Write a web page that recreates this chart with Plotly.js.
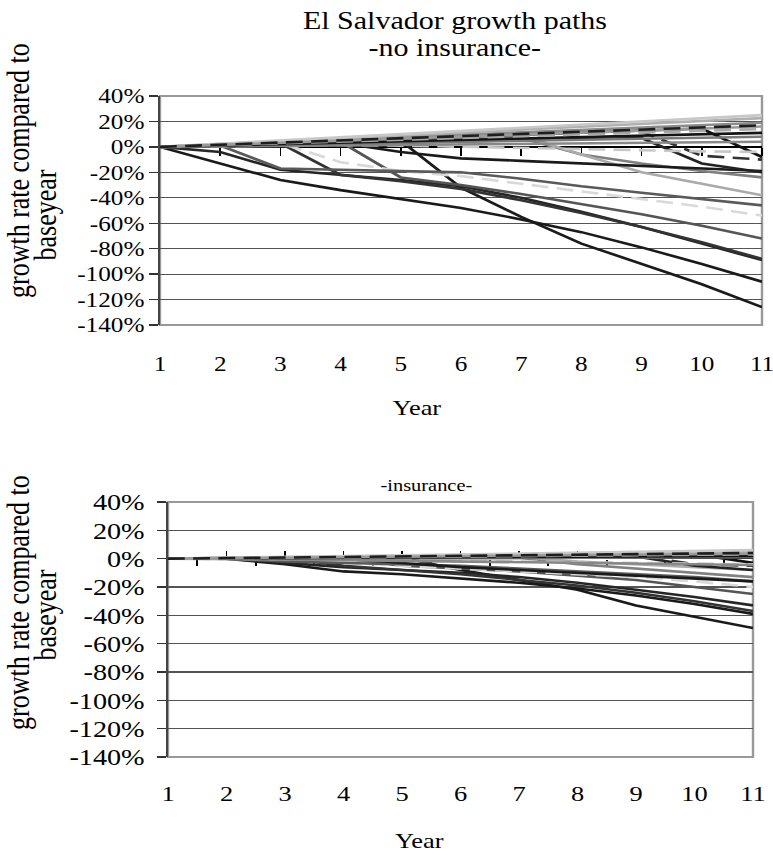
<!DOCTYPE html>
<html><head><meta charset="utf-8">
<script src="https://cdn.plot.ly/plotly-3.0.1.min.js"></script>
<style>
html,body{margin:0;padding:0;overflow:hidden;background:#fff;}
#wrap{width:773px;height:855px;overflow:hidden;position:relative;}
#chart{width:650px;height:855px;transform:scaleX(1.2003);transform-origin:0 0;}
</style></head><body><div id="wrap"><div id="chart"></div></div>
<script>
// ---------- data ----------
const years = [1,2,3,4,5,6,7,8,9,10,11];
const xTickText = ['1','2','3','4','5','6','7','8','9','10','11'];
const yTickVals = [40,20,0,-20,-40,-60,-80,-100,-120,-140];
const yTickText = ['40%','20%','0%','-20%','-40%','-60%','-80%','-100%','-120%','-140%'];

// no insurance (values in %)
const n01 = [0,2.5,5,7.5,10,12.5,15,17.5,20,22.5,25];
const n02 = [0,2.3,4.5,6.8,9,11.3,13.6,15.9,18.1,20.4,22.6];
const n03 = [0,1.9,3.8,5.7,7.6,9.5,11.4,13.3,15.2,17.1,19];
const n04 = [0,1.7,3.4,5.1,6.8,8.5,10.2,11.9,13.6,15.3,17];
const n05 = [0,1.4,2.8,4.2,5.6,7,8.4,9.8,11.2,12.6,14];
const n06 = [0,1.1,2.2,3.3,4.4,5.5,6.6,7.7,8.8,9.9,11];
const n07 = [0,0.8,1.6,2.4,3.2,4,4.8,5.6,6.4,7.2,8];
const n08 = [0,0.5,1,1.5,1,0,-1,-2,-3,-3.5,-4];
const n09 = [0,1.6,3.2,4.8,6.4,8,9.6,11.2,12.8,14.4,-8];
const n10 = [0,1.5,3,4.5,6,7.5,9,10.5,12,-7,-10];
const n11 = [0,0.9,1.8,2.7,3.6,4.5,5.4,6.3,7,-13,-20];
const n12 = [0,1,2,3,-4,-9,-11,-13,-15,-17,-19];
const n13 = [0,-13,-26,-34,-41,-48,-57,-67,-79,-92,-106];
const n14 = [0,1.2,2.4,3.6,4.8,-32,-55,-76,-92,-108,-126];
const n15 = [0,-4,-18,-22,-26,-31,-40,-51,-63,-76,-89];
const n16 = [0,1.4,2.8,-22,-27,-33,-42,-52,-63,-75,-88];
const n17 = [0,1.3,2.6,3.9,-24,-30,-37,-45,-53,-62,-72];
const n18 = [0,1.5,3,-12,-19,-23,-29,-35,-41,-47,-54];
const n19 = [0,1,-17,-18,-19,-20,-25,-31,-36,-41,-46];
const n20 = [0,1.2,2.4,3.6,4.8,6,7,-6,-13,-19,-24];
const n21 = [0,1.5,3,4.5,6,7.5,9,-6,-20,-29,-38];
const n22 = [0,1.6,3.2,4.8,6.4,8,9.6,11.2,12.8,14.4,16];
const n23 = [0,0.4,0.8,1.2,1.6,2,2.4,2.8,3.2,3.6,4];

// insurance (values in %)
const i01 = [0,0.6,1.2,1.8,2.4,3,3.6,4.2,4.8,5.4,6];
const i02 = [0,0.5,1,1.5,2,2.5,3,3.5,4,4.5,5];
const i03 = [0,0.45,0.9,1.35,1.8,2.25,2.7,3.15,3.6,4.05,4.5];
const i04 = [0,0.4,0.8,1.2,1.6,2,2.4,2.8,3.2,3.6,4];
const i05 = [0,0.3,0.6,0.9,1.2,1.5,1.8,2.1,2.4,2.7,3];
const i06 = [0,0.2,0.4,0.6,0.8,1,1.2,1.4,1.6,1.8,2];
const i07 = [0,0.1,0.2,0.3,0.4,0.5,0.6,0.7,0.8,0.9,1];
const i08 = [0,0,0,-0.5,-1,-1.5,-2,-2.5,-3,-3.5,-4];
const i09 = [0,0.35,0.7,1.05,1.4,1.75,2.1,2.45,2.8,3.2,-3];
const i10 = [0,0.3,0.6,0.9,1.2,1.5,1.8,2.1,2.4,-4,-5];
const i11 = [0,0.2,0.4,0.6,0.8,1,1.2,1.4,1.6,-5,-8];
const i12 = [0,0.1,0.2,0.3,-3,-6,-8,-10,-12,-14,-16];
const i13 = [0,0,-4,-9,-11,-14,-17,-21,-26,-32,-39];
const i14 = [0,0.2,0.4,0.6,0.8,-8,-15,-22,-33,-41,-49];
const i15 = [0,0,-3,-6,-8,-10,-13,-17,-22,-27,-33];
const i16 = [0,0.1,0.3,-5,-8,-11,-15,-19,-24,-30,-37];
const i17 = [0,0.1,0.2,0.4,-5,-7,-9,-12,-15,-20,-25];
const i18 = [0,0.1,0.3,-3,-5,-7,-9,-11,-13,-16,-20];
const i19 = [0,0,-2,-3,-4,-5,-7,-9,-11,-13,-16];
const i20 = [0,0.1,0.2,0.3,0.4,0.5,0.6,-4,-7,-10,-13];
const i21 = [0,0.2,0.4,0.6,0.8,1,1.2,-2,-4,-6,-8];
const i22 = [0,0.35,0.7,1.05,1.4,1.75,2.1,2.45,2.8,3.15,3.5];
const i23 = [0,0,-0.5,-1,-1.5,-2,-2.5,-3,-3.5,-4,-4.5];

const noIns = [n13,n14,n15,n16,n17,n18,n19,n20,n21,n12,n11,n10,n09,n08,n23,n07,n06,n05,n03,n02,n01,n22,n04];
const ins   = [i13,i14,i15,i16,i17,i18,i19,i20,i21,i12,i11,i10,i09,i08,i23,i07,i06,i05,i03,i02,i01,i22,i04];

// ---------- styles (same order as series lists) ----------
const DASH = '14px,7px';
const styles = [
  {c:'#1a1a1a', d:'solid'}, {c:'#1a1a1a', d:'solid'}, {c:'#262626', d:'solid'}, {c:'#333333', d:'solid'},
  {c:'#555555', d:'solid'}, {c:'#d9d9d9', d:DASH},   {c:'#5a5a5a', d:'solid'}, {c:'#808080', d:'solid'},
  {c:'#aaaaaa', d:'solid'}, {c:'#1a1a1a', d:'solid'}, {c:'#222222', d:'solid'}, {c:'#333333', d:DASH},
  {c:'#111111', d:'solid'}, {c:'#c8c8c8', d:DASH},   {c:'#888888', d:'solid'}, {c:'#7a7a7a', d:'solid'},
  {c:'#141414', d:'solid'}, {c:'#a8a8a8', d:DASH},   {c:'#8c8c8c', d:'solid'}, {c:'#b0b0b0', d:'solid'},
  {c:'#c8c8c8', d:'solid'}, {c:'#9a9a9a', d:'solid'}, {c:'#1e1e1e', d:DASH}
];

const FONT = 'Liberation Serif, Times New Roman, serif';
const SX = 1.2003, W = 650, H = 855;
const fx = x => x / SX / W;      // reference pixel x -> paper fraction
const fy = y => 1 - y / H;       // reference pixel y -> paper fraction

const traces = [];
noIns.forEach((s,k)=>traces.push({x:years,y:s,xaxis:'x',yaxis:'y',mode:'lines',
  line:{color:styles[k].c,width:2.6,dash:styles[k].d},hoverinfo:'skip',showlegend:false}));
ins.forEach((s,k)=>traces.push({x:years,y:s,xaxis:'x2',yaxis:'y2',mode:'lines',
  line:{color:styles[k].c,width:2.6,dash:styles[k].d},hoverinfo:'skip',showlegend:false}));
// carriers for the tick-only category axes crossing at 0%
traces.push({x:[null],y:[null],xaxis:'x3',yaxis:'y',mode:'lines',hoverinfo:'skip',showlegend:false});
traces.push({x:[null],y:[null],xaxis:'x4',yaxis:'y2',mode:'lines',hoverinfo:'skip',showlegend:false});

function yAx(dom, anchor, fs, so){
  return {domain:dom, anchor:anchor, range:[-140,40], tickmode:'array', tickvals:yTickVals, ticktext:yTickText,
    ticks:'outside', ticklen:7, tickwidth:1.3, tickcolor:'#333', showgrid:true, gridcolor:'#555', gridwidth:1.2,
    zeroline:true, zerolinecolor:'#000', zerolinewidth:1.5, showline:true, linecolor:'#444', linewidth:1.8,
    tickfont:{family:FONT,size:fs,color:'#000'}, ticklabelstandoff:so, fixedrange:true};
}
function xAx(dom, anchor, fs, so){
  return {domain:dom, anchor:anchor, range:[1,11], tickmode:'array', tickvals:years, ticktext:xTickText,
    ticks:'', showgrid:false, zeroline:false, showline:false, ticklabeloverflow:'allow',
    tickfont:{family:FONT,size:fs,color:'#000'}, ticklabelstandoff:so, fixedrange:true};
}
const minorVals = [1.5,2.5,3.5,4.5,5.5,6.5,7.5,8.5,9.5,10.5];
const annFont = s => ({family:FONT,size:s,color:'#000'});
function ann(text, x, y, size, angle){
  return {text:text, x:fx(x), y:fy(y), xref:'paper', yref:'paper', xanchor:'center', yanchor:'middle',
    showarrow:false, textangle:angle||0, font:annFont(size)};
}

const layout = {
  width:W, height:H, autosize:false, margin:{l:0,r:0,t:0,b:0},
  paper_bgcolor:'#fff', plot_bgcolor:'#fff', showlegend:false,
  font:{family:FONT,color:'#000'},
  title:{text:'El Salvador growth paths', font:annFont(25),
    x:fx(455), xanchor:'center', xref:'paper', y:fy(20), yanchor:'middle', yref:'container'},
  xaxis: xAx([fx(160),fx(762)],'y',21,24),
  yaxis: yAx([fy(325),fy(96)],'x',21,4.5),
  xaxis2: xAx([fx(168),fx(753)],'y2',22,21),
  yaxis2: yAx([fy(757),fy(502)],'x2',23.5,6),
  xaxis3: {overlaying:'x', anchor:'free', position:fy(146.9), range:[1,11], tickmode:'array', layer:'below traces',
    tickvals:[2,3,4,5,6,7,8,9,10,11], ticks:'outside', ticklen:8, tickwidth:1.3, tickcolor:'#000',
    showticklabels:false, showgrid:false, zeroline:false, showline:false, fixedrange:true},
  xaxis4: {overlaying:'x2', anchor:'free', position:fy(558.7), range:[1,11], tickmode:'array', layer:'below traces',
    tickvals:years, ticks:'inside', ticklen:8, tickwidth:1.3, tickcolor:'#000',
    minor:{tickmode:'array', tickvals:minorVals, ticks:'outside', ticklen:6, tickwidth:1.3, tickcolor:'#000'},
    showticklabels:false, showgrid:false, zeroline:false, showline:false, fixedrange:true},
  shapes:[
    {type:'rect', xref:'x domain', yref:'y domain', x0:0, x1:1, y0:0, y1:1, line:{color:'#999',width:2}, layer:'below'},
    {type:'rect', xref:'x2 domain', yref:'y2 domain', x0:0, x1:1, y0:0, y1:1, line:{color:'#999',width:2}, layer:'below'}
  ],
  annotations:[
    ann('-no insurance-', 455, 48, 25),
    ann('-insurance-', 427, 485, 17),
    ann('Year', 417, 407, 22),
    ann('Year', 420, 840, 22),
    ann('growth rate compared to', 18, 170, 26, -90),
    ann('baseyear', 45, 215, 26, -90),
    ann('growth rate compared to', 18, 602, 26, -90),
    ann('baseyear', 45, 615, 26, -90)
  ]
};

Plotly.newPlot('chart', traces, layout, {staticPlot:true, displayModeBar:false});
</script></body></html>
